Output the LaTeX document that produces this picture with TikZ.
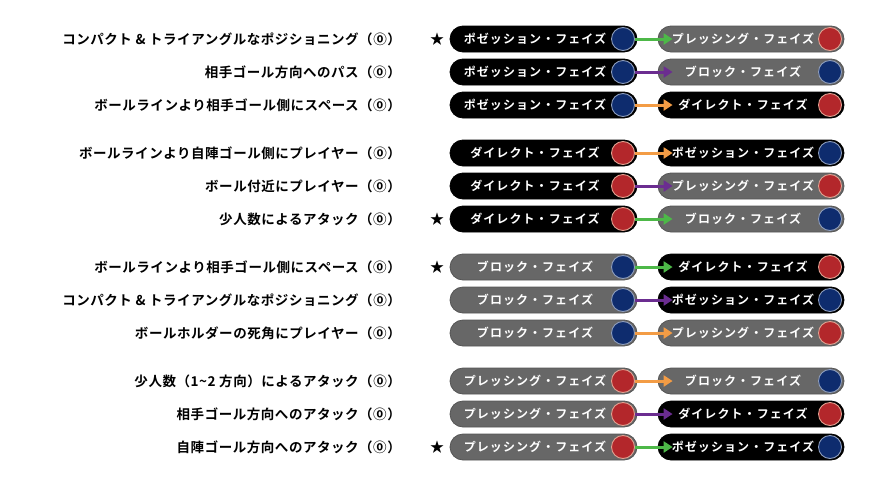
\documentclass[tikz,border=0pt]{standalone}
\usepackage{fontspec}
\usetikzlibrary{arrows.meta}
\newfontfamily\jplab{Noto Sans CJK JP Bold}[LetterSpace=4]
\newfontfamily\jppill{Noto Sans CJK JP Bold}[LetterSpace=9]
\definecolor{pgray}{HTML}{676767}
\definecolor{pgrayd}{HTML}{555555}
\definecolor{cblue}{HTML}{0E2C6E}
\definecolor{cbluel}{HTML}{8C9CBC}
\definecolor{cred}{HTML}{B3272B}
\definecolor{credl}{HTML}{E0A090}
\definecolor{agreen}{HTML}{4DB848}
\definecolor{apurple}{HTML}{6B2D90}
\definecolor{aorange}{HTML}{F39C45}
\tikzset{
  lab/.style={anchor=east,inner sep=0pt,font=\jplab\fontsize{13.5}{15}\selectfont},
  starnode/.style={inner sep=0pt,font=\jplab\fontsize{14}{15}\selectfont},
  pill/.style={rectangle,rounded corners=13pt,minimum height=26pt,inner sep=0pt,line width=0.8pt},
  pillL/.style={pill,minimum width=187pt},
  pillR/.style={pill,minimum width=186pt},
  pillP/.style={fill=black,draw=black},
  pillD/.style={fill=black,draw=black},
  pillB/.style={fill=pgray,draw=pgrayd},
  pillR2/.style={fill=pgray,draw=pgrayd},
  dot/.style={circle,minimum size=23pt,inner sep=0pt,line width=0.9pt},
  dotP/.style={fill=cblue,draw=cbluel},
  dotB/.style={fill=cblue,draw=cbluel},
  dotD/.style={fill=cred,draw=credl},
  dotR2/.style={fill=cred,draw=credl},
  ptext/.style={inner sep=0pt,text=white,font=\jppill\fontsize{12}{13}\selectfont},
  arr/.style={line width=3pt,-{Triangle[length=9pt,width=11pt]}},
}
\def\txtP{ポゼッション・フェイズ}
\def\txtD{ダイレクト・フェイズ}
\def\txtB{ブロック・フェイズ}
\def\txtRtwo{プレッシング・フェイズ}
% #1 id, #2 y, #3 label, #4 from, #5 to, #6 arrow colour
\newcommand\prow[6]{%
  \node[lab] (l#1) at (401,#2) {#3};
  \node[pillL,pill#4] (a#1) at (543.5,#2) {};
  \node[dot,dot#4] (ac#1) at (623,#2) {};
  \node[ptext] (at#1) at (535,#2) {\csname txt#4\endcsname};
  \node[pillR,pill#5] (b#1) at (751,#2) {};
  \node[dot,dot#5] (bc#1) at (830,#2) {};
  \node[ptext] (bt#1) at (743,#2) {\csname txt#5\endcsname};
  \draw[arr,#6] (ac#1.east) -- ([xshift=15pt]b#1.west);
}
\begin{document}
\begin{tikzpicture}[x=1pt,y=-1pt]
\useasboundingbox[fill=white] (0,0) rectangle (886,493);
\tikzset{pillRtwo/.style={pillR2},dotRtwo/.style={dotR2}}
\prow{1}{39}{コンパクト \& トライアングルなポジショニング（⓪）}{P}{Rtwo}{agreen}
\prow{2}{72}{相手ゴール方向へのパス（⓪）}{P}{B}{apurple}
\prow{3}{105}{ボールラインより相手ゴール側にスペース（⓪）}{P}{D}{aorange}
\prow{4}{153}{ボールラインより自陣ゴール側にプレイヤー（⓪）}{D}{P}{aorange}
\prow{5}{186}{ボール付近にプレイヤー（⓪）}{D}{Rtwo}{apurple}
\prow{6}{219}{少人数によるアタック（⓪）}{D}{B}{agreen}
\prow{7}{267}{ボールラインより相手ゴール側にスペース（⓪）}{B}{D}{agreen}
\prow{8}{300}{コンパクト \& トライアングルなポジショニング（⓪）}{B}{P}{apurple}
\prow{9}{333}{ボールホルダーの死角にプレイヤー（⓪）}{B}{Rtwo}{aorange}
\prow{10}{381}{少人数（1{\char"7E}2 方向）によるアタック（⓪）}{Rtwo}{B}{aorange}
\prow{11}{414}{相手ゴール方向へのアタック（⓪）}{Rtwo}{D}{apurple}
\prow{12}{447}{自陣ゴール方向へのアタック（⓪）}{Rtwo}{P}{agreen}
\node[starnode] (s1) at (437,39) {★};
\node[starnode] (s6) at (437,219) {★};
\node[starnode] (s7) at (437,267) {★};
\node[starnode] (s12) at (437,447) {★};
\end{tikzpicture}
\end{document}
